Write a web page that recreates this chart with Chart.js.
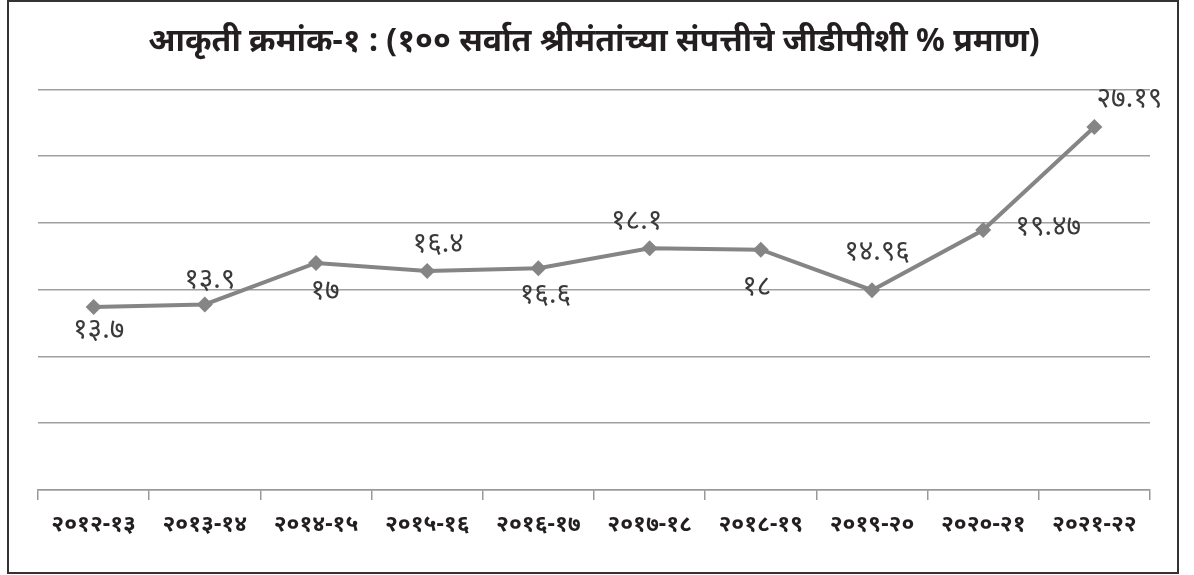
<!DOCTYPE html>
<html>
<head>
<meta charset="utf-8">
<script src="https://cdn.jsdelivr.net/npm/chart.js@4.4.0/dist/chart.umd.min.js"></script>
<style>
html,body{margin:0;padding:0;background:#fff;}
#wrap{position:relative;width:1194px;height:575px;}
#frame{position:absolute;left:7px;top:0;width:1168px;height:570px;border:2px solid #333;pointer-events:none;}
</style>
</head>
<body>
<div id="wrap">
<canvas id="myChart" width="1194" height="575"></canvas>
<div id="frame"></div>
</div>
<script>
const years = ['२०१२-१३','२०१३-१४','२०१४-१५','२०१५-१६','२०१६-१७','२०१७-१८','२०१८-१९','२०१९-२०','२०२०-२१','२०२१-२२'];
const values = [13.7, 13.9, 17, 16.4, 16.6, 18.1, 18, 14.96, 19.47, 27.19];
const yTicks = [0, 5, 10, 15, 20, 25, 30];
const chartTitle = 'आकृती क्रमांक-१ : (१०० सर्वात श्रीमंतांच्या संपत्तीचे जीडीपीशी % प्रमाण)';

// where each value label sits, relative to its point
const labelOffsets = [[5,23],[5,-24],[9,28],[11,-27],[7,27],[-13,-27],[-4,37],[5,-38],[65,-3],[35,-28]];

const devDigits = '०१२३४५६७८९';
function toDev(v){
  return String(v).replace(/[0-9]/g, d => devDigits[d]);
}

const valLabels = {
  id: 'valLabels',
  afterDatasetsDraw(chart){
    const ctx = chart.ctx;
    const meta = chart.getDatasetMeta(0);
    ctx.save();
    ctx.font = '28px "Noto Sans", sans-serif';
    ctx.fillStyle = '#3a3a3a';
    ctx.textAlign = 'center';
    ctx.textBaseline = 'middle';
    meta.data.forEach((pt, i) => {
      const o = labelOffsets[i];
      ctx.fillText(toDev(values[i]), pt.x + o[0], pt.y + o[1]);
    });
    ctx.restore();
  }
};

const data = {
  labels: years,
  datasets: [{
    data: values,
    borderColor: '#858585',
    backgroundColor: '#858585',
    borderWidth: 4,
    pointStyle: 'rectRot',
    pointRadius: 8,
    pointBorderWidth: 0,
    tension: 0
  }]
};

const config = {
  type: 'line',
  data,
  options: {
    responsive: false,
    animation: false,
    layout: { padding: { left: 38, right: 44, top: 0, bottom: 0 } },
    plugins: {
      legend: { display: false },
      tooltip: { enabled: false },
      title: {
        display: true,
        text: chartTitle,
        color: '#231f20',
        font: { size: 32, weight: 'bold', family: '"Noto Sans", sans-serif' },
        padding: { top: 23, bottom: 28 }
      }
    },
    scales: {
      x: {
        offset: true,
        grid: { offset: true, drawOnChartArea: false, drawTicks: true, tickLength: 10, color: '#999', lineWidth: 1.5 },
        border: { display: true, color: '#999', width: 1.5 },
        ticks: { color: '#231f20', padding: 11, maxRotation: 0, autoSkip: false,
          font: { size: 23, weight: 'bold', family: '"Noto Sans", sans-serif' } },
        afterFit(scale){ scale.height = 85; }
      },
      y: {
        min: 0, max: 30,
        afterBuildTicks(scale){ scale.ticks = yTicks.map(v => ({ value: v })); },
        grid: { drawTicks: false, color: '#a0a0a0', lineWidth: 1.5 },
        border: { display: false },
        ticks: { display: false },
        afterFit(scale){ scale.width = 0; }
      }
    }
  },
  plugins: [valLabels]
};

var myChart = new Chart(document.getElementById('myChart'), config);
</script>
</body>
</html>
